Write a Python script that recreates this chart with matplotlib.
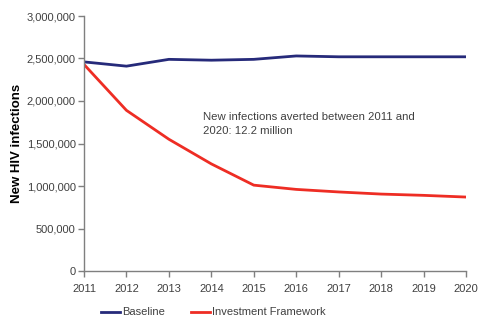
import matplotlib
matplotlib.use("Agg")
import matplotlib.pyplot as plt
from matplotlib.ticker import FuncFormatter, MultipleLocator

plt.rcParams['font.family'] = ['Liberation Sans', 'DejaVu Sans']

years = [2011, 2012, 2013, 2014, 2015, 2016, 2017, 2018, 2019, 2020]
baseline = [2460000, 2410000, 2490000, 2480000, 2490000, 2530000, 2520000, 2520000, 2520000, 2520000]
investment = [2430000, 1890000, 1550000, 1260000, 1010000, 960000, 930000, 905000, 890000, 870000]

navy = '#262a7a'
red = '#ee2d24'
grey = '#404040'
axis_grey = '#7f7f7f'

fig = plt.figure(figsize=(4.78, 3.22), dpi=100)
ax = fig.add_axes([84 / 478, 51 / 322, 382 / 478, 255 / 322])

ax.plot(years, baseline, color=navy, lw=2.0, solid_joinstyle='round')
ax.plot(years, investment, color=red, lw=2.0, solid_joinstyle='round')

ax.set_xlim(2011, 2020)
ax.set_ylim(0, 3000000)
ax.yaxis.set_major_locator(MultipleLocator(500000))
ax.yaxis.set_major_formatter(FuncFormatter(lambda v, p: f"{int(v):,}"))
ax.set_xticks(years)

for side in ('top', 'right'):
    ax.spines[side].set_visible(False)
for side in ('left', 'bottom'):
    ax.spines[side].set_color(axis_grey)
    ax.spines[side].set_linewidth(1.0)
ax.tick_params(axis='both', colors=axis_grey, labelcolor=grey, labelsize=8,
               length=4, width=1.0, direction='out')
ax.tick_params(axis='x', pad=5)
ax.tick_params(axis='y', pad=2)

ax.set_ylabel('New HIV infections', fontsize=9.5, fontweight='bold', labelpad=2.5)

ax.text(2013.8, 1730000, 'New infections averted between 2011 and\n2020: 12.2 million',
        fontsize=8.2, color=grey, va='center', ha='left', linespacing=1.4)

# legend along the bottom
fig.lines.append(plt.Line2D([101 / 478, 120 / 478], [10 / 322, 10 / 322], color=navy, lw=2.0,
                            transform=fig.transFigure))
fig.text(122 / 478, 10 / 322, 'Baseline', fontsize=8, color=grey, va='center', ha='left')
fig.lines.append(plt.Line2D([191 / 478, 210 / 478], [10 / 322, 10 / 322], color=red, lw=2.0,
                            transform=fig.transFigure))
fig.text(212 / 478, 10 / 322, 'Investment Framework', fontsize=8, color=grey, va='center', ha='left')

fig.savefig('out.png', dpi=100)
